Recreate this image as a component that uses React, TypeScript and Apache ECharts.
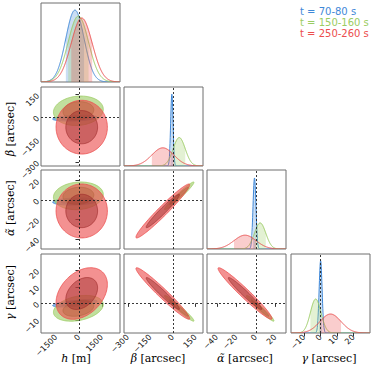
import React, { useEffect, useRef } from "react";
import * as echarts from "echarts";

// ---- Parameters / axes ----
const PARAM_NAMES = ["h", "β", "α̃", "γ"];
const PARAM_UNITS = ["[m]", "[arcsec]", "[arcsec]", "[arcsec]"];
const AXIS_MIN = [-2500, -325, -50, -18];
const AXIS_MAX = [2700, 200, 31, 30];
const TICKS_H = [-1500, 0, 1500];
const TICKS_BETA = [-300, -150, 0, 150];
const TICKS_ALPHA = [-40, -20, 0, 20];
const TICKS_GAMMA = [-10, 0, 10, 20];
const TRUTH = [0, 0, 0, 0];

// ---- Data sets ----
const LABELS = ["t = 70-80 s", "t = 150-160 s", "t = 250-260 s"];
const COLORS = ["#3f88d8", "#9bcc62", "#ec4d4d"];
const DARK = ["#1d5596", "#5e8e2c", "#9e2a2a"];

// means of [h, β, α̃, γ]
const MEAN_T1 = [-265, -7, -1.3, 0];
const MEAN_T2 = [-40, 42, 4.5, -3];
const MEAN_T3 = [180, -67, -11, 6];
// standard deviations of [h, β, α̃, γ]
const SIGMA_T1 = [600, 8, 1.5, 0.9];
const SIGMA_T2 = [670, 40, 5.8, 3.2];
const SIGMA_T3 = [690, 73, 11.3, 6.4];
// correlations for pairs (h,β), (h,α̃), (h,γ), (β,α̃), (β,γ), (α̃,γ)
const CORR_T1 = [0.3, 0.2, 0.6, 0.95, -0.95, -0.95];
const CORR_T2 = [0.1, 0.1, 0.3, 0.97, -0.97, -0.97];
const CORR_T3 = [0.0, 0.0, 0.35, 0.97, -0.97, -0.97];
// peak heights of 1D marginals (fraction of panel height)
const PEAK_T1 = [0.91, 0.91, 0.9, 0.915];
const PEAK_T2 = [0.835, 0.36, 0.33, 0.43];
const PEAK_T3 = [0.81, 0.23, 0.175, 0.24];
// contour radii: 95% and 68%
const CONTOUR_RADII = [2.448, 1.515];

const MEANS = [MEAN_T1, MEAN_T2, MEAN_T3];
const SIGMAS = [SIGMA_T1, SIGMA_T2, SIGMA_T3];
const CORRS = [CORR_T1, CORR_T2, CORR_T3];
const PEAKS = [PEAK_T1, PEAK_T2, PEAK_T3];
const TICKS = [TICKS_H, TICKS_BETA, TICKS_ALPHA, TICKS_GAMMA];
const PAIRS = [[0, 1], [0, 2], [0, 3], [1, 2], [1, 3], [2, 3]];

// ---- Layout ----
const COL_LEFT = [41, 124, 207, 291];
const ROW_TOP = [3, 87, 170, 254];
const SIZE = 79;

function rgba(hex: string, a: number) {
  const n = parseInt(hex.slice(1), 16);
  return `rgba(${(n >> 16) & 255},${(n >> 8) & 255},${n & 255},${a})`;
}
function fmt(v: number) {
  return v < 0 ? "\u2212" + Math.abs(v) : String(v);
}
function pairIndex(a: number, b: number) {
  return PAIRS.findIndex((p) => p[0] === a && p[1] === b);
}

function buildOption() {
  const grid: any[] = [];
  const xAxis: any[] = [];
  const yAxis: any[] = [];
  const series: any[] = [];
  let g = 0;
  for (let i = 0; i < 4; i++) {
    for (let j = 0; j <= i; j++) {
      grid.push({
        left: COL_LEFT[j],
        top: ROW_TOP[i],
        width: SIZE,
        height: SIZE,
        show: true,
        borderColor: "#6e6e6e",
        borderWidth: 1,
      });
      const isBottom = i === 3;
      const isLeft = j === 0 && i !== j;
      xAxis.push({
        type: "value",
        gridIndex: g,
        min: AXIS_MIN[j],
        max: AXIS_MAX[j],
        axisLine: { show: false },
        splitLine: { show: false },
        axisTick: {
          show: isBottom,
          customValues: TICKS[j],
          length: 3.5,
          lineStyle: { color: "#333" },
        },
        axisLabel: {
          show: isBottom,
          customValues: TICKS[j],
          rotate: 45,
          fontSize: 8,
          fontFamily: "DejaVu Sans",
          color: "#111",
          margin: 3,
          formatter: fmt,
        },
      });
      if (i === j) {
        yAxis.push({
          type: "value",
          gridIndex: g,
          min: 0,
          max: 1,
          axisLine: { show: false },
          splitLine: { show: false },
          axisTick: { show: false },
          axisLabel: { show: false },
        });
        const p = i;
        series.push({
          type: "custom",
          xAxisIndex: g,
          yAxisIndex: g,
          clip: true,
          z: 2,
          data: [0, 1, 2].map((d) => [MEANS[d][p], SIGMAS[d][p], PEAKS[d][p], d]),
          renderItem: (params: any, api: any) => {
            const mu = api.value(0);
            const sg = api.value(1);
            const pk = api.value(2);
            const ds = api.value(3);
            const lo = AXIS_MIN[p];
            const hi = AXIS_MAX[p];
            const f = (x: number) => pk * Math.exp(-0.5 * ((x - mu) / sg) ** 2);
            const N = 400;
            const line: number[][] = [];
            for (let k = 0; k <= N; k++) {
              const x = lo + ((hi - lo) * k) / N;
              line.push(api.coord([x, f(x)]));
            }
            const shade: number[][] = [api.coord([mu - sg, 0])];
            for (let k = 0; k <= 60; k++) {
              const x = mu - sg + (2 * sg * k) / 60;
              shade.push(api.coord([x, f(x)]));
            }
            shade.push(api.coord([mu + sg, 0]));
            return {
              type: "group",
              children: [
                {
                  type: "polygon",
                  shape: { points: shade },
                  style: { fill: rgba(COLORS[ds], 0.28), stroke: null },
                },
                {
                  type: "polyline",
                  shape: { points: line },
                  style: { stroke: COLORS[ds], lineWidth: 1, fill: null },
                },
              ],
            };
          },
          markLine: {
            silent: true,
            symbol: ["none", "none"],
            label: { show: false },
            lineStyle: { color: "#222", type: [2, 2], width: 0.9 },
            data: [{ xAxis: TRUTH[p] }],
          },
        });
      } else {
        yAxis.push({
          type: "value",
          gridIndex: g,
          min: AXIS_MIN[i],
          max: AXIS_MAX[i],
          axisLine: { show: false },
          splitLine: { show: false },
          axisTick: {
            show: isLeft,
            customValues: TICKS[i],
            length: 3.5,
            lineStyle: { color: "#333" },
          },
          axisLabel: {
            show: isLeft,
            customValues: TICKS[i],
            rotate: 45,
            fontSize: 8,
            fontFamily: "DejaVu Sans",
            color: "#111",
            margin: 3,
            formatter: fmt,
          },
        });
        const px = j;
        const py = i;
        const pi = pairIndex(px, py);
        const data: number[][] = [];
        for (let d = 0; d < 3; d++) {
          for (let l = 0; l < CONTOUR_RADII.length; l++) {
            data.push([
              MEANS[d][px],
              MEANS[d][py],
              SIGMAS[d][px],
              SIGMAS[d][py],
              CORRS[d][pi],
              CONTOUR_RADII[l],
              d,
              l,
            ]);
          }
        }
        series.push({
          type: "custom",
          xAxisIndex: g,
          yAxisIndex: g,
          clip: true,
          z: 2,
          data,
          renderItem: (params: any, api: any) => {
            const mx = api.value(0);
            const my = api.value(1);
            const sx = api.value(2);
            const sy = api.value(3);
            const rho = api.value(4);
            const r = api.value(5);
            const ds = api.value(6);
            const lvl = api.value(7);
            const q = Math.sqrt(1 - rho * rho);
            const pts: number[][] = [];
            const N = 120;
            for (let k = 0; k < N; k++) {
              const t = (k / N) * Math.PI * 2;
              const c = Math.cos(t);
              const s = Math.sin(t);
              pts.push(api.coord([mx + r * sx * c, my + r * sy * (rho * c + q * s)]));
            }
            const outer = lvl === 0;
            return {
              type: "polygon",
              shape: { points: pts },
              style: {
                fill: outer ? rgba(COLORS[ds], 0.62) : rgba(DARK[ds], 0.45),
                stroke: outer ? rgba(COLORS[ds], 0.95) : rgba(DARK[ds], 0.8),
                lineWidth: 0.8,
              },
            };
          },
          markLine: {
            silent: true,
            symbol: ["none", "none"],
            label: { show: false },
            lineStyle: { color: "#222", type: [2, 2], width: 0.9 },
            data: [{ xAxis: TRUTH[px] }, { yAxis: TRUTH[py] }],
          },
        });
      }
      g++;
    }
  }

  const graphic: any[] = [];
  LABELS.forEach((t, k) => {
    graphic.push({
      type: "text",
      x: 300,
      y: 11 + k * 11.2,
      style: {
        text: t,
        fill: COLORS[k],
        fontSize: 10,
        fontFamily: "DejaVu Sans",
        verticalAlign: "middle",
        align: "left",
      },
    });
  });
  const xLabelCenters = [76, 158, 245, 329];
  const yLabelCenters = [0, 129, 208, 292.5];
  for (let p = 0; p < 4; p++) {
    const rich = {
      i: { fontStyle: "italic", fontFamily: "DejaVu Serif", fontSize: 11, fill: "#000" },
      n: { fontFamily: "DejaVu Serif", fontSize: 11, fill: "#000" },
    };
    const text = `{i|${PARAM_NAMES[p]}}{n| ${PARAM_UNITS[p]}}`;
    graphic.push({
      type: "text",
      x: xLabelCenters[p],
      y: 358,
      style: {
        text,
        rich,
        fontFamily: "DejaVu Serif",
        fontSize: 11,
        fill: "#000",
        align: "center",
        verticalAlign: "middle",
      },
    });
    if (p > 0) {
      graphic.push({
        type: "text",
        x: 10,
        y: yLabelCenters[p],
        rotation: Math.PI / 2,
        style: {
          text,
          rich,
          fontFamily: "DejaVu Serif",
          fontSize: 11,
          fill: "#000",
          align: "center",
          verticalAlign: "middle",
        },
      });
    }
  }

  return {
    animation: false,
    backgroundColor: "#fff",
    grid,
    xAxis,
    yAxis,
    series,
    graphic,
  };
}

export default function App() {
  const ref = useRef<HTMLDivElement>(null);
  useEffect(() => {
    if (!ref.current) return;
    const chart = echarts.init(ref.current, undefined, { renderer: "svg" });
    chart.setOption(buildOption() as any);
    return () => chart.dispose();
  }, []);
  return (
    <div
      ref={ref}
      style={{ position: "absolute", left: 0, top: 0, width: 374, height: 377 }}
    />
  );
}
